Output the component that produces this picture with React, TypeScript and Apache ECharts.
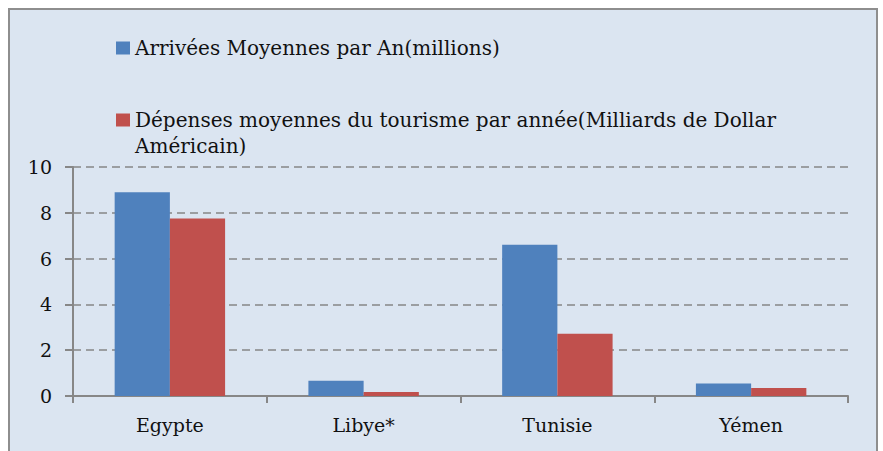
import React, { useEffect, useRef } from "react";
import * as echarts from "echarts";

const categories = ["Egypte", "Libye*", "Tunisie", "Yémen"];
const arrivals = [8.9, 0.67, 6.6, 0.55];
const spending = [7.75, 0.17, 2.72, 0.35];
const seriesNames = [
  "Arrivées Moyennes par An(millions)",
  "Dépenses moyennes du tourisme par année(Milliards de Dollar Américain)",
];
const yTicks = { min: 0, max: 10, interval: 2 };

export default function App() {
  const ref = useRef<HTMLDivElement>(null);
  useEffect(() => {
    document.body.style.margin = "0";
    const chart = echarts.init(ref.current!, null, { renderer: "svg" });
    const axisGray = "#878787";
    const legendText = { fontFamily: "DejaVu Serif", fontSize: 20, color: "#111", lineHeight: 26 };
    chart.setOption({
      animation: false,
      backgroundColor: "#ffffff",
      graphic: [
        {
          type: "rect",
          z: -100,
          silent: true,
          shape: { x: 9, y: 9, width: 868, height: 470 },
          style: { fill: "#DBE5F1", stroke: "#8E8E8E", lineWidth: 2 },
        },
      ],
      legend: [
        {
          data: [seriesNames[0]],
          left: 116,
          top: 35,
          padding: 0,
          orient: "vertical",
          itemWidth: 14,
          itemHeight: 13,
          icon: "rect",
          textStyle: legendText,
        },
        {
          data: [seriesNames[1]],
          left: 116,
          top: 81,
          padding: 0,
          orient: "vertical",
          itemWidth: 14,
          itemHeight: 13,
          icon: "rect",
          formatter: (n: string) => "\n" + n.replace("Dollar ", "Dollar\n"),
          textStyle: legendText,
        },
      ],
      grid: { left: 73, right: 35, top: 167, bottom: 55, containLabel: false },
      xAxis: {
        type: "category",
        data: categories,
        axisLine: { show: true, lineStyle: { color: axisGray, width: 2 } },
        axisTick: { show: true, length: 7, lineStyle: { color: axisGray, width: 2 } },
        axisLabel: { fontFamily: "DejaVu Serif", fontSize: 19, color: "#111", margin: 19 },
      },
      yAxis: {
        type: "value",
        min: yTicks.min,
        max: yTicks.max,
        interval: yTicks.interval,
        axisLine: { show: true, lineStyle: { color: axisGray, width: 2 } },
        axisTick: { show: true, length: 8, lineStyle: { color: axisGray, width: 2 } },
        axisLabel: { fontFamily: "DejaVu Serif", fontSize: 19, color: "#111", margin: 21 },
        splitLine: { show: true, lineStyle: { color: axisGray, width: 1.5, type: [8, 5] } },
      },
      series: [
        { name: seriesNames[0], type: "bar", data: arrivals, barGap: "0%", barCategoryGap: "43%", itemStyle: { color: "#4F81BD" } },
        { name: seriesNames[1], type: "bar", data: spending, barGap: "0%", barCategoryGap: "43%", itemStyle: { color: "#C0504D" } },
      ],
    });
    return () => chart.dispose();
  }, []);
  return <div ref={ref} style={{ width: 883, height: 451 }} />;
}
